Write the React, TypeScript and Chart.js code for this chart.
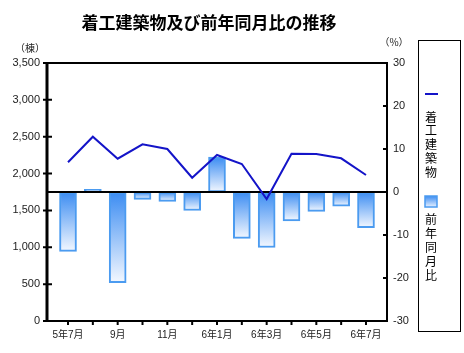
import React, { useEffect, useRef } from "react";
import { Chart, registerables } from "chart.js";

Chart.register(...registerables);

const categories = ["5年7月", "8月", "9月", "10月", "11月", "12月", "6年1月", "2月", "6年3月", "4月", "6年5月", "6月", "6年7月"];
const shownLabels = ["5年7月", "", "9月", "", "11月", "", "6年1月", "", "6年3月", "", "6年5月", "", "6年7月"];
const buildings = [2153, 2500, 2202, 2397, 2333, 1944, 2252, 2130, 1655, 2270, 2265, 2207, 1981];
const yoyPercent = [-13.8, 0.6, -21.1, -1.7, -2.2, -4.3, 8.1, -10.8, -12.9, -6.7, -4.5, -3.3, -8.3];
const leftTicks = [0, 500, 1000, 1500, 2000, 2500, 3000, 3500];
const rightTicks = [-30, -20, -10, 0, 10, 20, 30];

const TITLE = "着工建築物及び前年同月比の推移";
const LEGEND_LINE = "着工建築物";
const LEGEND_BAR = "前年同月比";
const UNIT_LEFT = "（棟）";
const UNIT_RIGHT = "（%）";

const FONT = "'Liberation Sans', 'Noto Sans CJK JP', sans-serif";
const CJK = "'Noto Sans CJK JP', 'Liberation Sans', sans-serif";

const decorPlugin = {
  id: "decor",
  afterDatasetDraw(chart: any, args: any) {
    if (args.index !== 1) return;
    const { ctx, chartArea } = chart;
    const y0 = chart.scales.y2.getPixelForValue(0);
    ctx.save();
    ctx.strokeStyle = "#000";
    ctx.lineWidth = 2;
    ctx.beginPath();
    ctx.moveTo(chartArea.left, y0);
    ctx.lineTo(chartArea.right, y0);
    ctx.stroke();
    ctx.restore();
  },
  afterDraw(chart: any) {
    const { ctx, chartArea } = chart;
    const { left, right, top, bottom } = chartArea;
    ctx.save();
    // plot box
    ctx.strokeStyle = "#000";
    ctx.lineWidth = 2;
    ctx.strokeRect(left, top, right - left, bottom - top);
    ctx.lineWidth = 3;
    ctx.beginPath();
    ctx.moveTo(left, top);
    ctx.lineTo(left, bottom + 1);
    ctx.stroke();
    // tick marks
    ctx.lineWidth = 2;
    ctx.beginPath();
    leftTicks.forEach((v) => {
      const y = chart.scales.y.getPixelForValue(v);
      ctx.moveTo(left - 4, y);
      ctx.lineTo(left + 5, y);
    });
    rightTicks.forEach((v) => {
      const y = chart.scales.y2.getPixelForValue(v);
      ctx.moveTo(right - 4, y);
      ctx.lineTo(right, y);
    });
    categories.forEach((_, i) => {
      const x = chart.scales.x.getPixelForValue(i);
      ctx.moveTo(x, bottom);
      ctx.lineTo(x, bottom + 4);
    });
    ctx.stroke();

    // title
    ctx.fillStyle = "#000";
    ctx.font = `bold 17px ${CJK}`;
    ctx.textAlign = "center";
    ctx.textBaseline = "middle";
    ctx.fillText(TITLE, 209, 23);

    // units
    ctx.font = `10px ${CJK}`;
    ctx.fillStyle = "#222";
    ctx.fillText(UNIT_LEFT, 30, 48);
    ctx.fillText(UNIT_RIGHT, 394, 42);

    // legend box
    ctx.strokeStyle = "#000";
    ctx.lineWidth = 1;
    ctx.strokeRect(418.5, 40.5, 42, 291);
    const lx = 431;
    ctx.strokeStyle = "#1414c8";
    ctx.lineWidth = 2;
    ctx.beginPath();
    ctx.moveTo(425, 94);
    ctx.lineTo(438, 94);
    ctx.stroke();
    ctx.fillStyle = "#000";
    ctx.font = `12px ${CJK}`;
    LEGEND_LINE.split("").forEach((c, i) => ctx.fillText(c, lx, 117 + i * 13.8));
    const g = ctx.createLinearGradient(0, 196, 0, 207);
    g.addColorStop(0, "#3b8cf2");
    g.addColorStop(1, "#e8f1ff");
    ctx.fillStyle = g;
    ctx.fillRect(425, 196, 12, 11);
    ctx.strokeStyle = "#4b9bf0";
    ctx.lineWidth = 1.5;
    ctx.strokeRect(425, 196, 12, 11);
    ctx.fillStyle = "#000";
    LEGEND_BAR.split("").forEach((c, i) => ctx.fillText(c, lx, 219 + i * 14));
    ctx.restore();
  },
};

export default function App() {
  const ref = useRef<HTMLCanvasElement | null>(null);
  useEffect(() => {
    document.body.style.margin = "0";
    const canvas = ref.current;
    if (!canvas) return;
    const chart = new Chart(canvas, {
      type: "bar",
      data: {
        datasets: [
          {
            type: "line",
            label: LEGEND_LINE,
            data: buildings.map((v, i) => ({ x: i, y: v })),
            yAxisID: "y",
            borderColor: "#1414c8",
            borderWidth: 2,
            pointRadius: 0,
            tension: 0,
            order: 0,
          } as any,
          {
            type: "bar",
            label: LEGEND_BAR,
            data: yoyPercent.map((v, i) => ({ x: i, y: v })),
            yAxisID: "y2",
            barThickness: 17,
            borderColor: "#4b9bf0",
            borderWidth: 2,
            borderSkipped: false,
            order: 1,
            backgroundColor: (c: any) => {
              const chart = c.chart;
              if (!chart.chartArea || c.type !== "data") return "#4a96ee";
              const y2 = chart.scales.y2;
              const v = c.raw && typeof c.raw === "object" ? c.raw.y : 0;
              const p0 = y2.getPixelForValue(0);
              const p1 = y2.getPixelForValue(v);
              const t = Math.min(p0, p1);
              const b = Math.max(p0, p1) + 0.01;
              const g = chart.ctx.createLinearGradient(0, t, 0, b);
              g.addColorStop(0, "#3b8cf2");
              g.addColorStop(1, "#f4f8ff");
              return g;
            },
          } as any,
        ],
      },
      options: {
        animation: false,
        responsive: false,
        devicePixelRatio: 1,
        layout: { padding: { left: 0, right: 0, top: 63, bottom: 0 } },
        plugins: { legend: { display: false }, title: { display: false }, tooltip: { enabled: false } },
        scales: {
          x: {
            type: "linear",
            offset: false,
            min: -0.846,
            max: 12.846,
            grid: { display: false, drawTicks: false, offset: false },
            border: { display: false },
            afterBuildTicks: (s: any) => {
              s.ticks = categories.map((_, i) => ({ value: i }));
            },
            afterFit: (s: any) => {
              s.height = 32;
            },
            ticks: {
              autoSkip: false,
              maxRotation: 0,
              padding: 8,
              color: "#222",
              font: { family: FONT, size: 10 },
              callback: (v: any) => shownLabels[Math.round(v)] ?? "",
            },
          },
          y: {
            type: "linear",
            position: "left",
            min: 0,
            max: 3500,
            grid: { display: false, drawTicks: false },
            border: { display: false },
            afterFit: (s: any) => {
              s.width = 47;
            },
            ticks: {
              stepSize: 500,
              padding: 7,
              color: "#222",
              font: { family: FONT, size: 11 },
              callback: (v: any) => Number(v).toLocaleString("en-US"),
            },
          },
          y2: {
            type: "linear",
            position: "right",
            min: -30,
            max: 30,
            grid: { display: false, drawTicks: false },
            border: { display: false },
            afterFit: (s: any) => {
              s.width = 77;
            },
            ticks: {
              stepSize: 10,
              padding: 6,
              color: "#222",
              font: { family: FONT, size: 11 },
            },
          },
        },
      },
      plugins: [decorPlugin],
    });
    return () => chart.destroy();
  }, []);
  return (
    <div style={{ width: 464, height: 353, position: "relative", background: "#fff" }}>
      <canvas ref={ref} width={464} height={353} style={{ display: "block" }} />
    </div>
  );
}
